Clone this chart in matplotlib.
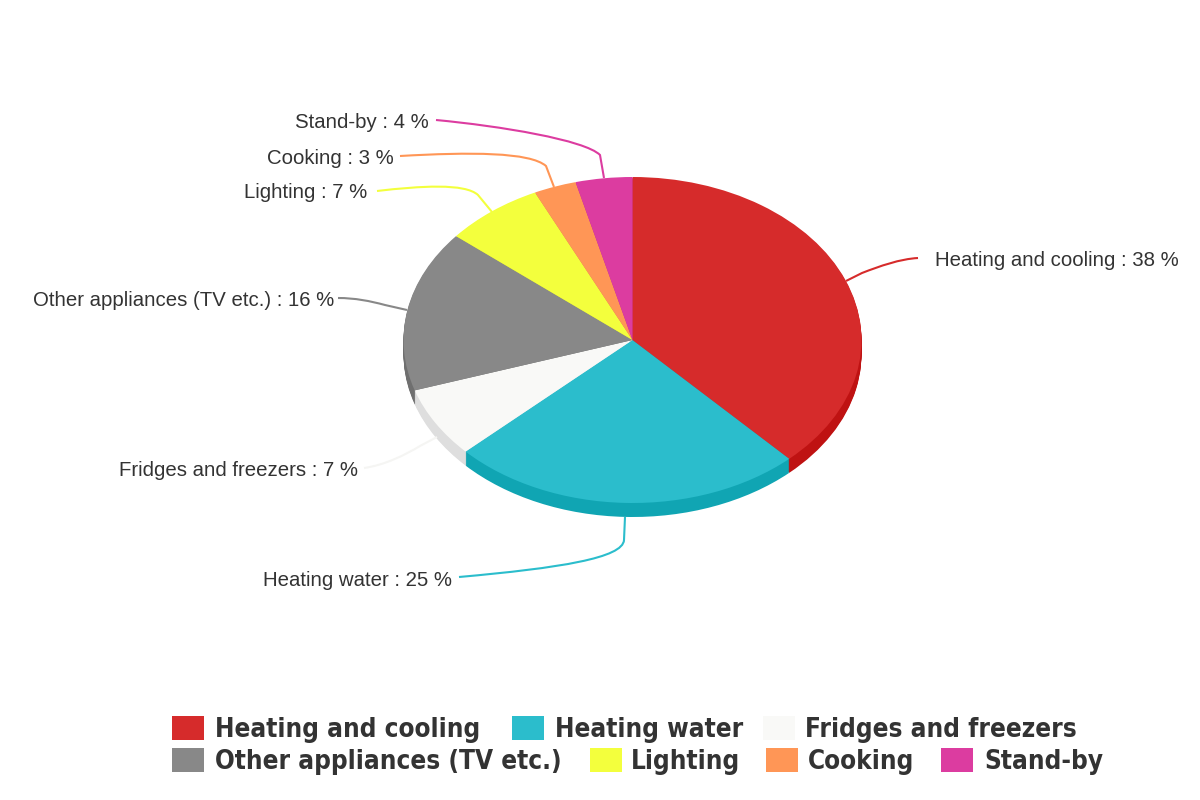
import numpy as np
import matplotlib
matplotlib.use("Agg")
import matplotlib.pyplot as plt
from matplotlib.patches import PathPatch, Rectangle
from matplotlib.path import Path

categories = ["Heating and cooling", "Heating water", "Fridges and freezers",
              "Other appliances (TV etc.)", "Lighting", "Cooking", "Stand-by"]
values = [38, 25, 7, 16, 7, 3, 4]
colors = ["#D62B2B", "#2BBDCC", "#F9F9F7", "#888888", "#F3FF3D", "#FF9656", "#DC3CA0"]
wall_colors = ["#BF1212", "#10A5B3", "#DEDEDE", "#6F6F6F", "#D0DA30", "#D97F48", "#BB3388"]
line_colors = ["#D62B2B", "#2BBDCC", "#F5F5F3", "#888888", "#F3FF3D", "#FF9656", "#DC3CA0"]

# pie geometry in pixels
cx, cy = 632.5, 340
rx, ry = 229, 163
depth = 14

fig = plt.figure(figsize=(12, 8), dpi=100)

# the unit circle of this axes comes out as the flattened ellipse
ax = fig.add_axes([0, 0, 1, 1])
for d in range(depth, -1, -1):
    ax.pie(values, colors=wall_colors if d > 0 else colors, startangle=90, counterclock=False,
           center=(0, -d / ry), radius=1, wedgeprops={"linewidth": 0})
ax.set_aspect("auto")
ax.set_xlim(-cx / rx, (1200 - cx) / rx)
ax.set_ylim(-(800 - cy) / ry, cy / ry)

# overlay in pixel coordinates for the labels and the legend
over = fig.add_axes([0, 0, 1, 1])
over.set_xlim(0, 1200)
over.set_ylim(800, 0)
over.axis("off")

# label anchor (right or left edge) and leader curve for each slice
label_pos = [(935, 261, "left"), (452, 581, "right"), (358, 471, "right"),
             (334, 301, "right"), (367, 193, "right"), (394, 159, "right"), (429, 123, "right")]
# curve first, then a short straight piece into the slice
leaders = [
    [(918, 258), (900, 259), (880, 266), (862, 273), (846, 281)],
    [(459, 577), (560, 568), (623, 558), (624, 540), (625, 517)],
    [(364, 468), (385, 465), (405, 455), (420, 446), (437, 437)],
    [(338, 298), (355, 298), (370, 301), (385, 305), (407, 310)],
    [(377, 191), (420, 186), (465, 183), (478, 195), (492, 212)],
    [(400, 156), (470, 152), (530, 152), (546, 166), (554, 187)],
    [(436, 120), (500, 126), (585, 140), (600, 155), (604, 178)],
]
leader_codes = [Path.MOVETO, Path.CURVE4, Path.CURVE4, Path.CURVE4, Path.LINETO]

for cat, val, pos, pts, col in zip(categories, values, label_pos, leaders, line_colors):
    over.text(pos[0], pos[1], f"{cat} : {val} %", ha=pos[2], va="center",
              family="Liberation Sans", fontsize=14.7, color="#333333")
    over.add_patch(PathPatch(Path(pts, leader_codes), fc="none", ec=col, lw=1.5))

# legend, two rows of swatch + text
legend_x = [(172, 215), (512, 555), (763, 805), (172, 215), (590, 631), (766, 808), (941, 984)]
legend_y = [728, 728, 728, 760, 760, 760, 760]
for cat, col, (sx, tx), y in zip(categories, colors, legend_x, legend_y):
    over.add_patch(Rectangle((sx, y - 12), 32, 24, fc=col, ec="none"))
    over.text(tx, y + 2, cat, ha="left", va="center", family="DejaVu Sans", fontweight="bold",
              fontstretch="condensed", fontsize=18.7, color="#333333")

fig.savefig("out.png", dpi=100)
